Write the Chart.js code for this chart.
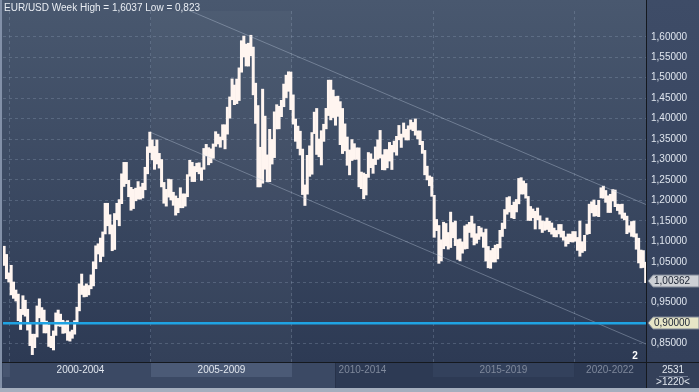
<!DOCTYPE html>
<html>
<head>
<meta charset="utf-8">
<script src="https://cdn.jsdelivr.net/npm/chart.js@4"></script>
<style>
  html, body { margin: 0; padding: 0; background: #2e3b55; }
  #wrap { width: 699px; height: 392px; }
</style>
</head>
<body>
<div id="wrap"><canvas id="myChart" width="699" height="392"></canvas></div>
<script>
// EUR/USD monthly ranges, Oct 1999 .. Jul 2022
var title = "EUR/USD Week High = 1,6037 Low = 0,823";
var firstYear = 1999, firstMonth = 9; // October
var lows = [
  1.0410, 1.0085, 1.0004,                                                                   // 1999
  0.9690, 0.9605, 0.9540, 0.9060, 0.8844, 0.9210, 0.9170, 0.8830, 0.8450, 0.8230, 0.8400, 0.8660, // 2000
  0.9130, 0.9030, 0.8760, 0.8760, 0.8430, 0.8400, 0.8344, 0.8700, 0.8930, 0.8920, 0.8750, 0.8760, // 2001
  0.8580, 0.8560, 0.8630, 0.8730, 0.9030, 0.9300, 0.9700, 0.9640, 0.9650, 0.9690, 0.9840, 0.9910, // 2002
  1.0330, 1.0690, 1.0500, 1.0630, 1.1180, 1.1380, 1.1180, 1.0770, 1.0800, 1.1530, 1.1380, 1.1920, // 2003
  1.2340, 1.2410, 1.2090, 1.1760, 1.1800, 1.1990, 1.2030, 1.2030, 1.2060, 1.2260, 1.2650, 1.3170, // 2004
  1.2990, 1.2760, 1.2890, 1.2790, 1.2330, 1.1930, 1.1860, 1.2080, 1.2010, 1.1880, 1.1640, 1.1700, // 2005
  1.1820, 1.1820, 1.1860, 1.2090, 1.2590, 1.2460, 1.2460, 1.2700, 1.2650, 1.2490, 1.2760, 1.3090, // 2006
  1.2870, 1.2920, 1.3030, 1.3320, 1.3380, 1.3300, 1.3480, 1.3260, 1.3620, 1.4010, 1.4460, 1.4340, // 2007
  1.4366, 1.4441, 1.5134, 1.5508, 1.5285, 1.5283, 1.5533, 1.4580, 1.3882, 1.2329, 1.2330, 1.2420, // 2008
  1.2762, 1.2456, 1.2457, 1.2888, 1.3046, 1.3747, 1.3750, 1.4047, 1.4290, 1.4513, 1.4667, 1.4218, // 2009
  1.3864, 1.3444, 1.3268, 1.3110, 1.2143, 1.1876, 1.2153, 1.2588, 1.2640, 1.3633, 1.3123, 1.3067, // 2010
  1.2867, 1.3443, 1.3749, 1.4074, 1.3968, 1.4025, 1.3837, 1.4054, 1.3362, 1.3145, 1.3211, 1.2858, // 2011
  1.2624, 1.2975, 1.3002, 1.3004, 1.2331, 1.2287, 1.2040, 1.2132, 1.2563, 1.2800, 1.2662, 1.2876, // 2012
  1.3004, 1.3036, 1.2750, 1.2745, 1.2796, 1.2962, 1.2755, 1.3183, 1.3104, 1.3481, 1.3295, 1.3545, // 2013
  1.3477, 1.3477, 1.3736, 1.3703, 1.3594, 1.3503, 1.3363, 1.3149, 1.2625, 1.2501, 1.2358, 1.2100, // 2014
  1.1098, 1.1261, 1.0462, 1.0521, 1.0818, 1.0886, 1.0809, 1.0848, 1.1086, 1.0895, 1.0557, 1.0523, // 2015
  1.0710, 1.0810, 1.0822, 1.1216, 1.1098, 1.0912, 1.0952, 1.1046, 1.1122, 1.0852, 1.0518, 1.0352, // 2016
  1.0340, 1.0494, 1.0494, 1.0569, 1.0839, 1.1118, 1.1312, 1.1662, 1.1717, 1.1574, 1.1554, 1.1718, // 2017
  1.1916, 1.2154, 1.2155, 1.2055, 1.1510, 1.1508, 1.1576, 1.1301, 1.1526, 1.1302, 1.1216, 1.1269, // 2018
  1.1289, 1.1234, 1.1176, 1.1110, 1.1107, 1.1181, 1.1101, 1.1027, 1.0879, 1.0941, 1.0989, 1.0981, // 2019
  1.1003, 1.0778, 1.0636, 1.0727, 1.0767, 1.1168, 1.1186, 1.1696, 1.1612, 1.1622, 1.1603, 1.2060, // 2020
  1.2054, 1.1952, 1.1704, 1.1704, 1.1986, 1.1847, 1.1752, 1.1664, 1.1563, 1.1524, 1.1186, 1.1222, // 2021
  1.1121, 1.1106, 1.0806, 1.0471, 1.0350, 1.0359, 0.9990                                         // 2022
];
var highs = [
  1.0880, 1.0680, 1.0230,                                                                   // 1999
  1.0414, 1.0006, 0.9810, 0.9710, 0.9338, 0.9670, 0.9560, 0.9340, 0.9020, 0.8730, 0.8730, 0.9420, // 2000
  0.9595, 0.9380, 0.9320, 0.9050, 0.8960, 0.8680, 0.8810, 0.9250, 0.9320, 0.9220, 0.9070, 0.9030, // 2001
  0.9060, 0.8790, 0.8830, 0.9060, 0.9390, 0.9960, 1.0200, 0.9910, 0.9960, 0.9920, 1.0180, 1.0500, // 2002
  1.0890, 1.0940, 1.1080, 1.1230, 1.1930, 1.1930, 1.1650, 1.1400, 1.1680, 1.1930, 1.2020, 1.2650, // 2003
  1.2930, 1.2930, 1.2490, 1.2320, 1.2270, 1.2300, 1.2460, 1.2330, 1.2420, 1.2810, 1.3310, 1.3670, // 2004
  1.3480, 1.3320, 1.3480, 1.3150, 1.3000, 1.2440, 1.2270, 1.2520, 1.2510, 1.2200, 1.2110, 1.2050, // 2005
  1.2310, 1.2160, 1.2160, 1.2630, 1.2980, 1.2930, 1.2830, 1.2910, 1.2920, 1.2800, 1.3270, 1.3370, // 2006
  1.3290, 1.3260, 1.3380, 1.3680, 1.3620, 1.3550, 1.3850, 1.3850, 1.4280, 1.4530, 1.4970, 1.4820, // 2007
  1.4966, 1.5240, 1.5904, 1.6018, 1.5822, 1.5843, 1.6037, 1.5748, 1.4866, 1.4319, 1.3299, 1.4720, // 2008
  1.4060, 1.3113, 1.3737, 1.3490, 1.4165, 1.4340, 1.4301, 1.4447, 1.4844, 1.5062, 1.5144, 1.5138, // 2009
  1.4580, 1.3990, 1.3816, 1.3692, 1.3255, 1.2379, 1.3102, 1.3334, 1.3659, 1.4158, 1.4248, 1.3501, // 2010
  1.3704, 1.3862, 1.4250, 1.4940, 1.4940, 1.4698, 1.4540, 1.4549, 1.4415, 1.4248, 1.3871, 1.3550, // 2011
  1.3234, 1.3487, 1.3387, 1.3285, 1.3284, 1.2693, 1.2670, 1.2638, 1.3171, 1.3140, 1.3010, 1.3308, // 2012
  1.3480, 1.3711, 1.3116, 1.3244, 1.3243, 1.3418, 1.3346, 1.3451, 1.3567, 1.3833, 1.3621, 1.3893, // 2013
  1.3739, 1.3825, 1.3967, 1.3906, 1.3993, 1.3700, 1.3700, 1.3445, 1.3223, 1.2837, 1.2600, 1.2571, // 2014
  1.2125, 1.1534, 1.1387, 1.1038, 1.1467, 1.1436, 1.1216, 1.1714, 1.1460, 1.1495, 1.1043, 1.1059, // 2015
  1.0986, 1.1376, 1.1410, 1.1464, 1.1616, 1.1428, 1.1186, 1.1366, 1.1328, 1.1214, 1.1300, 1.0874, // 2016
  1.0775, 1.0829, 1.0906, 1.0928, 1.1268, 1.1446, 1.1777, 1.2070, 1.2092, 1.1880, 1.1961, 1.2023, // 2017
  1.2537, 1.2556, 1.2476, 1.2414, 1.2097, 1.1852, 1.1791, 1.1734, 1.1815, 1.1624, 1.1500, 1.1486, // 2018
  1.1570, 1.1489, 1.1449, 1.1324, 1.1265, 1.1412, 1.1412, 1.1249, 1.1109, 1.1179, 1.1176, 1.1239, // 2019
  1.1239, 1.1095, 1.1495, 1.0991, 1.1147, 1.1422, 1.1908, 1.1966, 1.2011, 1.1881, 1.2003, 1.2310, // 2020
  1.2349, 1.2243, 1.2113, 1.2150, 1.2266, 1.2254, 1.1908, 1.1902, 1.1909, 1.1692, 1.1616, 1.1382, // 2021
  1.1483, 1.1495, 1.1185, 1.1076, 1.0787, 1.0774, 1.0486                                         // 2022
];
var periods = ["2000-2004", "2005-2009", "2010-2014", "2015-2019", "2020-2022"];
var periodStarts = [2000, 2005, 2010, 2015, 2020];
var yTicks = [0.85, 0.90, 0.95, 1.00, 1.05, 1.10, 1.15, 1.20, 1.25, 1.30, 1.35, 1.40, 1.45, 1.50, 1.55, 1.60];
var lastValue = 1.00362;
var levelValue = 0.90;
var upperChannel = [[2005, 1.704], [2022.55, 1.190]];
var lowerChannel = [[2005, 1.366], [2022.55, 0.849]];
var xMin = 1999.752, xMax = 2022.553;

var bars = lows.map(function (lo, i) {
  return { x: firstYear + (firstMonth + i + 0.5) / 12, y: [lo, highs[i]] };
});
var pts = function (arr) { return arr.map(function (p) { return { x: p[0], y: p[1] }; }); };

function fmt(v) { return v.toFixed(5).replace(".", ","); }

var background = {
  id: "background",
  beforeDraw: function (chart) {
    var c = chart.ctx, a = chart.chartArea, xs = chart.scales.x;
    c.save();
    var g = c.createLinearGradient(0, 0, 0, a.bottom);
    g.addColorStop(0, "#49586f");
    g.addColorStop(1, "#2d3a54");
    c.fillStyle = g;
    c.fillRect(0, 0, 699, 392);
    // lighter 2005-2009 column
    var x1 = xs.getPixelForValue(2005), x2 = xs.getPixelForValue(2010);
    c.fillStyle = "rgba(255,255,255,0.03)";
    c.fillRect(x1, a.top, x2 - x1, a.bottom - a.top);
    // right axis panel
    var g2 = c.createLinearGradient(0, 0, 0, a.bottom);
    g2.addColorStop(0, "#3e4c67");
    g2.addColorStop(1, "#33405b");
    c.fillStyle = g2;
    c.fillRect(a.right, 0, 699 - a.right, a.bottom);
    // period band
    c.fillStyle = "#3b4964";
    c.fillRect(0, a.bottom, 335, 392 - a.bottom);
    c.fillStyle = "#2d3a54";
    c.fillRect(335, a.bottom, a.right - 335, 392 - a.bottom);
    c.fillStyle = "#344059";
    c.fillRect(a.right, a.bottom, 699 - a.right, 392 - a.bottom);
    c.fillStyle = "#46546f";
    c.fillRect(3, a.bottom + 1, xs.getPixelForValue(2000) - 3, 14);
    c.fillStyle = "#4b5a76";
    c.fillRect(x1, a.bottom + 1, x2 - x1, 14);
    c.fillStyle = "#33415c";
    c.fillRect(xs.getPixelForValue(2015), a.bottom + 1, xs.getPixelForValue(2020) - xs.getPixelForValue(2015), 14);
    c.fillStyle = "#27324a";
    c.fillRect(335, a.bottom, 1, 26);
    c.restore();
  },
  afterDraw: function (chart) {
    var c = chart.ctx, a = chart.chartArea, xs = chart.scales.x, ys = chart.scales.y;
    c.save();
    // frame
    c.fillStyle = "#15191f";
    c.fillRect(a.right, 0, 1, 388);
    c.fillRect(0, a.bottom, 699, 1);
    c.fillStyle = "#8290a8";
    c.fillRect(0, 0, 2, 392);
    c.fillStyle = "#a4aebe";
    c.fillRect(0, 388, 699, 4);

    c.font = "10px Arial";
    c.textBaseline = "middle";
    // title
    c.fillStyle = "#e9edf3";
    c.textAlign = "left";
    c.fillText(title, 4, 8);
    // period labels
    c.textAlign = "center";
    periods.forEach(function (p, i) {
      var s = xs.getPixelForValue(periodStarts[i]);
      var e = i < periods.length - 1 ? xs.getPixelForValue(periodStarts[i + 1]) : a.right;
      c.fillStyle = i < 2 ? "#e1e6ee" : "#7f899c";
      c.fillText(p, (s + e) / 2, a.bottom + 8);
    });
    // bottom right counters
    c.fillStyle = "#e1e6ee";
    c.fillText("2531", 673, a.bottom + 8);
    c.fillText(">1220<", 673, a.bottom + 20);
    c.fillStyle = "#6d7890";
    c.fillRect(659, a.bottom + 14, 29, 1);
    c.font = "bold 10px Arial";
    c.fillStyle = "#ffffff";
    c.fillText("2", 635, a.bottom - 6);

    // value tags on the price axis
    function tag(v, bg) {
      var y = Math.round(ys.getPixelForValue(v));
      c.beginPath();
      c.moveTo(a.right + 2, y);
      c.lineTo(a.right + 7, y - 6);
      c.lineTo(699, y - 6);
      c.lineTo(699, y + 6);
      c.lineTo(a.right + 7, y + 6);
      c.closePath();
      c.fillStyle = bg;
      c.fill();
      c.strokeStyle = "#7c8594";
      c.lineWidth = 1;
      c.stroke();
      c.font = "10px Arial";
      c.fillStyle = "#1b2333";
      c.textAlign = "left";
      c.fillText(fmt(v), a.right + 8, y + 0.5);
    }
    tag(lastValue, "#cdd0d5");
    tag(levelValue, "#e6e5c6");
    c.restore();
  }
};

var ctx = document.getElementById("myChart").getContext("2d");

var myChart = new Chart(ctx, {
  type: "bar",
  data: {
    datasets: [
      {
        type: "line",
        data: pts([[xMin, levelValue], [xMax, levelValue]]),
        borderColor: "#1fa3e3",
        borderWidth: 2.5,
        pointRadius: 0,
        order: 0,
      },
      {
        type: "line",
        data: pts(upperChannel),
        borderColor: "rgba(190, 202, 222, 0.38)",
        borderWidth: 1,
        pointRadius: 0,
        order: 1,
      },
      {
        type: "line",
        data: pts(lowerChannel),
        borderColor: "rgba(190, 202, 222, 0.38)",
        borderWidth: 1,
        pointRadius: 0,
        order: 1,
      },
      {
        data: bars,
        backgroundColor: "#fff5f0",
        borderWidth: 0,
        barPercentage: 1,
        categoryPercentage: 1,
        grouped: false,
        order: 2,
      },
    ],
  },
  options: {
    responsive: false,
    animation: false,
    layout: { padding: { left: 3, top: 0, right: 0, bottom: 0 } },
    plugins: { legend: { display: false }, tooltip: { enabled: false } },
    scales: {
      x: {
        type: "linear",
        offset: false,
        min: xMin,
        max: xMax,
        afterBuildTicks: function (s) { s.ticks = periodStarts.map(function (v) { return { value: v }; }); },
        afterFit: function (s) { s.height = 30; },
        ticks: { display: false },
        grid: { color: "rgba(150, 165, 190, 0.3)", drawTicks: false, offset: false },
        border: { display: false, dash: [3, 3] },
      },
      y: {
        position: "right",
        min: 0.805,
        max: 1.663,
        afterBuildTicks: function (s) { s.ticks = yTicks.map(function (v) { return { value: v }; }); },
        afterFit: function (s) { s.width = 53; },
        ticks: {
          color: "#dfe5ee",
          font: { family: "Arial", size: 10 },
          padding: 5,
          autoSkip: false,
          callback: function (v) { return fmt(v); },
        },
        grid: { color: "rgba(150, 165, 190, 0.3)", drawTicks: false },
        border: { display: false, dash: [3, 3] },
      },
    },
  },
  plugins: [background],
});
</script>
</body>
</html>
